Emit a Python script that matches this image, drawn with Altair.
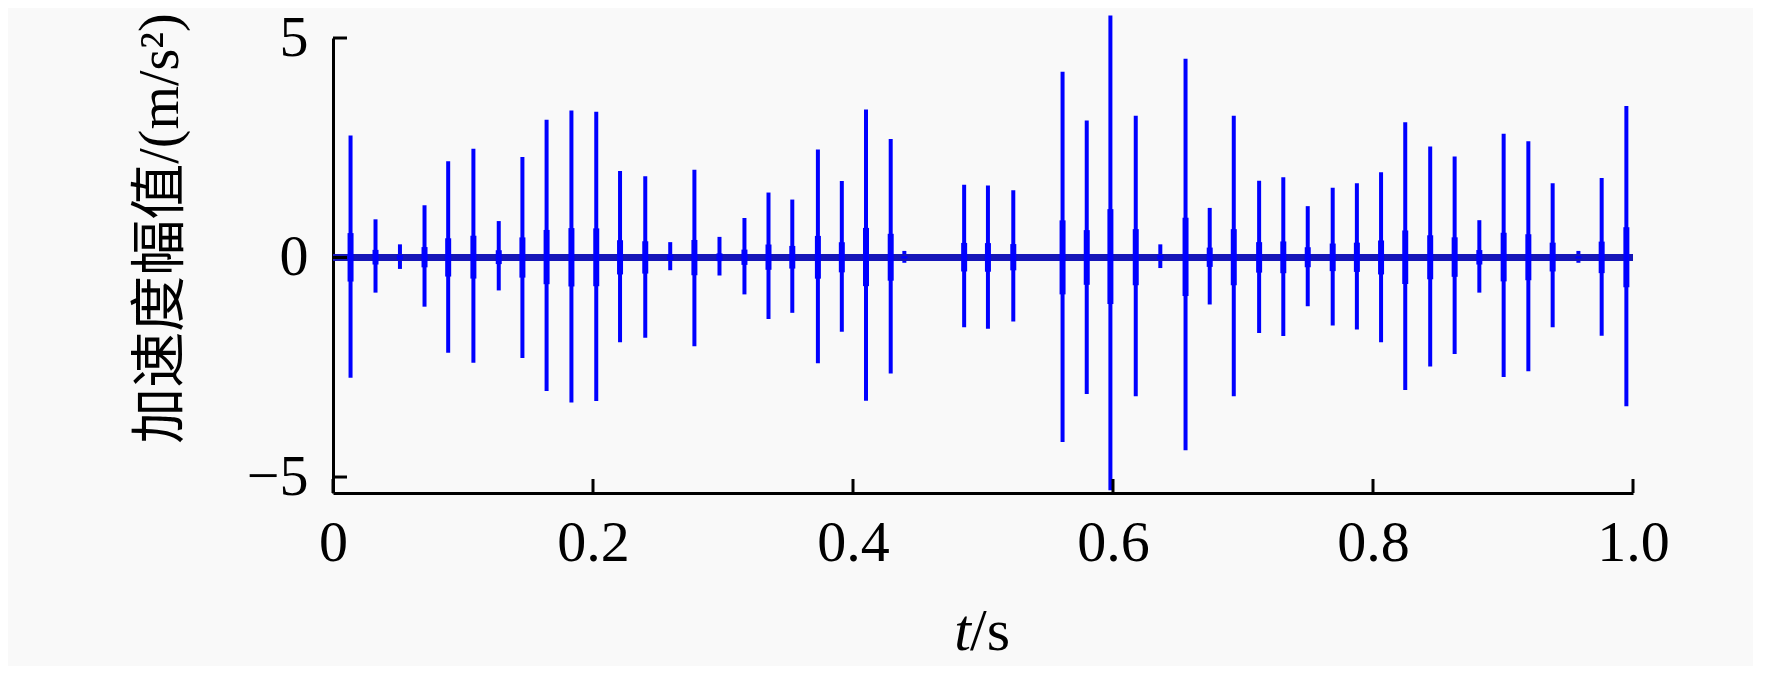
import pandas as pd
import altair as alt

# impulse times (s) with positive / negative peak values (m/s^2)
times = [0.0135, 0.0327, 0.0515, 0.0704, 0.0886, 0.108, 0.1275, 0.1457, 0.1643, 0.1834,
         0.2025, 0.2208, 0.2402, 0.2594, 0.278, 0.2973, 0.3165, 0.335, 0.3533, 0.373,
         0.3914, 0.410, 0.429, 0.4395, 0.4855, 0.5038, 0.5233, 0.5612, 0.5798, 0.598,
         0.6175, 0.6364, 0.6558, 0.6744, 0.6929, 0.7124, 0.731, 0.7498, 0.769, 0.7876,
         0.8062, 0.8248, 0.844, 0.8628, 0.8818, 0.9005, 0.9195, 0.9382, 0.958, 0.9759,
         0.9949]
peaks_pos = [2.78, 0.87, 0.30, 1.19, 2.19, 2.48, 0.83, 2.29, 3.14, 3.35,
             3.32, 1.97, 1.85, 0.35, 2.00, 0.47, 0.90, 1.48, 1.32, 2.46,
             1.74, 3.37, 2.70, 0.15, 1.66, 1.64, 1.53, 4.23, 3.12, 5.51,
             3.23, 0.30, 4.53, 1.13, 3.23, 1.75, 1.83, 1.17, 1.59, 1.69,
             1.94, 3.08, 2.53, 2.30, 0.85, 2.82, 2.65, 1.69, 0.15, 1.81,
             3.45]
peaks_neg = [-2.74, -0.80, -0.26, -1.12, -2.17, -2.40, -0.75, -2.29, -3.04, -3.30,
             -3.27, -1.93, -1.83, -0.29, -2.02, -0.41, -0.84, -1.40, -1.26, -2.41,
             -1.69, -3.26, -2.64, -0.12, -1.59, -1.62, -1.46, -4.20, -3.11, -5.30,
             -3.16, -0.24, -4.39, -1.07, -3.16, -1.72, -1.79, -1.11, -1.55, -1.64,
             -1.93, -3.02, -2.48, -2.20, -0.80, -2.72, -2.59, -1.59, -0.12, -1.78,
             -3.39]

time_range = [0.0, 1.0]
x_ticks = [0.0, 0.2, 0.4, 0.6, 0.8, 1.0]
y_ticks = [-5, 0, 5]
y_domain = [-5.364, 5]

df = pd.DataFrame({'t': times, 'pos': peaks_pos, 'neg': peaks_neg})
base_df = pd.DataFrame({'t': [time_range[0]], 't1': [time_range[1]], 'neg': [0]})

serif = 'Liberation Serif'
cjk = 'Liberation Serif, Noto Sans CJK SC'
blue = '#0000ff'

xs = alt.Scale(domain=time_range, nice=False, zero=False)
ys = alt.Scale(domain=y_domain, nice=False, zero=False)

x_axis = alt.Axis(values=x_ticks, labelExpr="datum.value == 0 ? '0' : format(datum.value, '.1f')",
                  labelPadding=21)
y_axis = alt.Axis(values=y_ticks, labelPadding=25, titleX=-173, titleY=190,
                  titleAngle=270, titleAlign='center', titleBaseline='middle',
                  titleFont=cjk, titleFontSize=56, titleFontWeight='normal',
                  titleColor='black')

spikes = alt.Chart(df).mark_rule(color=blue, strokeWidth=4, clip=False).encode(
    x=alt.X('t:Q', scale=xs, title=None, axis=x_axis),
    y=alt.Y('neg:Q', scale=ys, title='加速度幅值/(m/s²)', axis=y_axis),
    y2='pos:Q'
)

baseline = alt.Chart(base_df).mark_rule(color='#1616b8', strokeWidth=7, clip=False).encode(
    x=alt.X('t:Q', scale=xs, title=None, axis=x_axis),
    x2='t1:Q',
    y=alt.Y('neg:Q', scale=ys, title='加速度幅值/(m/s²)', axis=y_axis)
)

# thicker ringing part of each impulse near the zero line
cores = alt.Chart(df).transform_calculate(
    lo='0.2 * datum.neg', hi='0.2 * datum.pos'
).mark_rule(color=blue, strokeWidth=6, clip=False).encode(
    x=alt.X('t:Q', scale=xs, title=None, axis=x_axis),
    y=alt.Y('lo:Q', scale=ys, title='加速度幅值/(m/s²)', axis=y_axis),
    y2='hi:Q'
)

# inward ticks
xtick = alt.Chart(pd.DataFrame({'t': x_ticks})).mark_rule(color='black', strokeWidth=3).encode(
    x=alt.X('t:Q', scale=xs, title=None, axis=x_axis),
    y=alt.value(455),
    y2=alt.value(441)
)
ytick = alt.Chart(pd.DataFrame({'neg': y_ticks})).mark_rule(color='black', strokeWidth=3).encode(
    y=alt.Y('neg:Q', scale=ys, title='加速度幅值/(m/s²)', axis=y_axis),
    x=alt.value(0),
    x2=alt.value(14)
)

title_t = alt.Chart(pd.DataFrame({'s': ['t']})).mark_text(
    font=serif, fontSize=60, fontStyle='italic', align='right', baseline='alphabetic', color='black'
).encode(text='s:N', x=alt.value(638), y=alt.value(612))
title_s = alt.Chart(pd.DataFrame({'s': ['/s']})).mark_text(
    font=serif, fontSize=60, align='left', baseline='alphabetic', color='black'
).encode(text='s:N', x=alt.value(637), y=alt.value(612))

chart = alt.layer(spikes, baseline, cores, xtick, ytick, title_t, title_s).properties(
    width=1300,
    height=455,
    autosize=alt.AutoSizeParams(type='none'),
    padding={'left': 325, 'top': 30, 'right': 120, 'bottom': 173},
    background='#f9f9f9'
).configure_view(
    stroke=None
).configure_axis(
    grid=False,
    ticks=False,
    domainColor='black',
    domainWidth=3,
    labelFont=serif,
    labelFontSize=58,
    labelColor='black',
    labelFlush=False,
    labelOverlap=False,
    labelBound=False
)

chart.save("out.html", embed_options={"renderer": "svg", "actions": False})
